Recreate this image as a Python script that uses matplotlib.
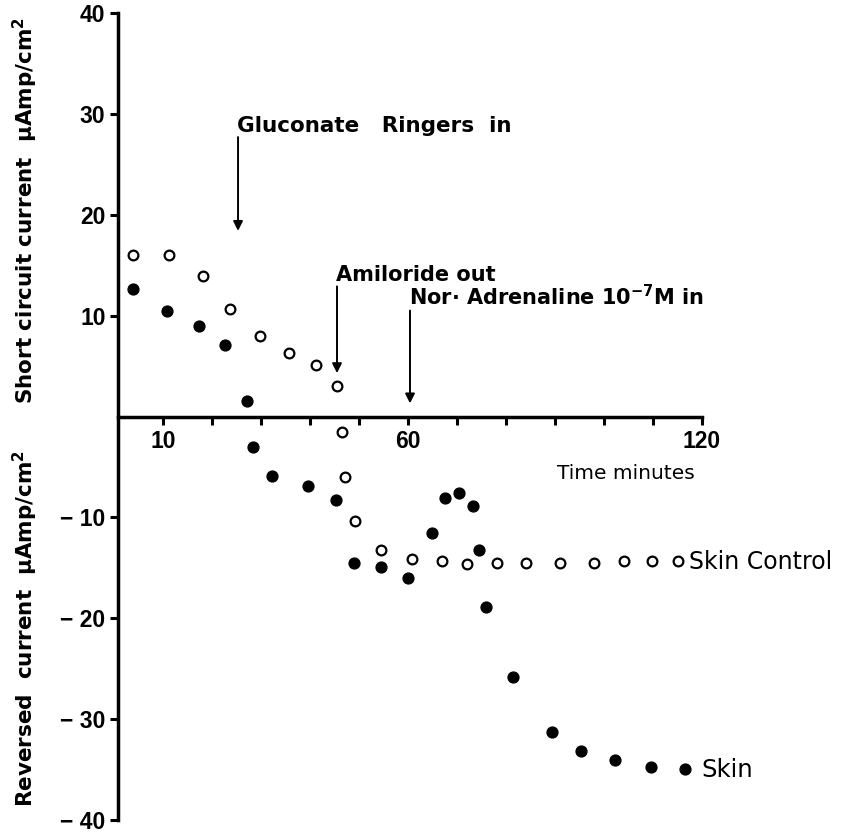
import matplotlib
matplotlib.use("Agg")
import matplotlib.pyplot as plt

plt.rcParams['font.family'] = ['DejaVu Sans']

# Skin Control (open circles)
control_t = [3.9, 11.3, 18.1, 23.7, 29.7, 35.7, 41.2, 45.4, 46.5, 47.1, 49.2, 54.5,
             60.8, 66.9, 72.1, 78.2, 84.1, 91.0, 98.0, 104.1, 109.7, 115.2]
control_v = [16.0, 16.0, 13.9, 10.7, 8.0, 6.3, 5.1, 3.0, -1.5, -6.0, -10.4, -13.2,
             -14.1, -14.3, -14.6, -14.5, -14.5, -14.5, -14.5, -14.3, -14.3, -14.3]

# Skin (filled circles)
skin_t = [3.9, 10.8, 17.4, 22.7, 27.1, 28.3, 32.2, 39.5, 45.3, 49.0, 54.5, 59.9,
          64.8, 67.6, 70.5, 73.2, 74.4, 75.9, 81.4, 89.3, 95.4, 102.3, 109.5, 116.5]
skin_v = [12.6, 10.5, 9.0, 7.1, 1.5, -3.0, -5.9, -6.9, -8.3, -14.5, -14.9, -16.0,
          -11.5, -8.1, -7.6, -8.9, -13.2, -18.9, -25.8, -31.3, -33.2, -34.1, -34.7, -34.9]

x_ticks = [10, 20, 30, 40, 50, 60, 70, 80, 90, 100, 110, 120]
x_ticklabels = ['10', '', '', '', '', '60', '', '', '', '', '', '120']
y_ticks = [-40, -30, -20, -10, 10, 20, 30, 40]
y_ticklabels = ['\u2212 40', '\u2212 30', '\u2212 20', '\u2212 10', '10', '20', '30', '40']

# annotations: (text, arrow x, arrow top, arrow tip, fontsize)
events = [
    ('Gluconate   Ringers  in', 25.3, 27.7, 18.4, 15.5),
    ('Amiloride out', 45.5, 12.9, 4.3, 15.0),
    ('Nor\u00b7 Adrenaline 10$^{\\mathbf{-7}}$M in', 60.4, 10.5, 1.3, 15.0),
]

fig = plt.figure(figsize=(8.44, 8.33), dpi=100)
ax = fig.add_axes([118/844, 13/833, 584/844, 807/833])

ax.plot(control_t, control_v, linestyle='none', marker='o', markersize=7,
        markerfacecolor='white', markeredgecolor='black', markeredgewidth=1.6)
ax.plot(skin_t, skin_v, linestyle='none', marker='o', markersize=7.8,
        markerfacecolor='black', markeredgecolor='black')

ax.set_xlim(0.8, 120)
ax.set_ylim(-40, 40)

for s in ['top', 'right']:
    ax.spines[s].set_visible(False)
ax.spines['bottom'].set_position(('data', 0))
ax.spines['bottom'].set_linewidth(2.5)
ax.spines['left'].set_linewidth(2.5)

tick_font = dict(family=['Liberation Sans Narrow', 'Liberation Sans'], size=16.5, weight='bold')
ax.set_xticks(x_ticks)
ax.set_xticklabels(x_ticklabels, fontdict=tick_font)
ax.set_yticks(y_ticks)
ax.set_yticklabels(y_ticklabels, fontdict=tick_font)
ax.tick_params(axis='both', direction='out', length=6, width=2.2)
ax.tick_params(axis='x', pad=4)
ax.tick_params(axis='y', pad=3)

ax.text(104.5, -5.7, 'Time minutes', fontsize=14.5, ha='center', va='center')
ax.text(117.3, -14.4, 'Skin Control', fontsize=17, ha='left', va='center')
ax.text(119.8, -35.0, 'Skin', fontsize=17.5, ha='left', va='center')

for label, x, top, tip, fs in events:
    ax.annotate('', xy=(x, tip), xytext=(x, top),
                arrowprops=dict(arrowstyle='-|>', color='black', lw=1.4,
                                mutation_scale=14, shrinkA=0, shrinkB=0))
    ax.text(x - 0.2, top + 0.1, label, fontsize=fs, fontweight='bold',
            ha='left', va='bottom')

fig.text(0.030, 0.747, 'Short circuit current  \u03bcAmp/cm$^{\\mathbf{2}}$', rotation=90,
         fontsize=15.5, fontweight='bold', ha='center', va='center')
fig.text(0.030, 0.245, 'Reversed  current  \u03bcAmp/cm$^{\\mathbf{2}}$', rotation=90,
         fontsize=15.5, fontweight='bold', ha='center', va='center')

fig.savefig('out.png', dpi=100)
